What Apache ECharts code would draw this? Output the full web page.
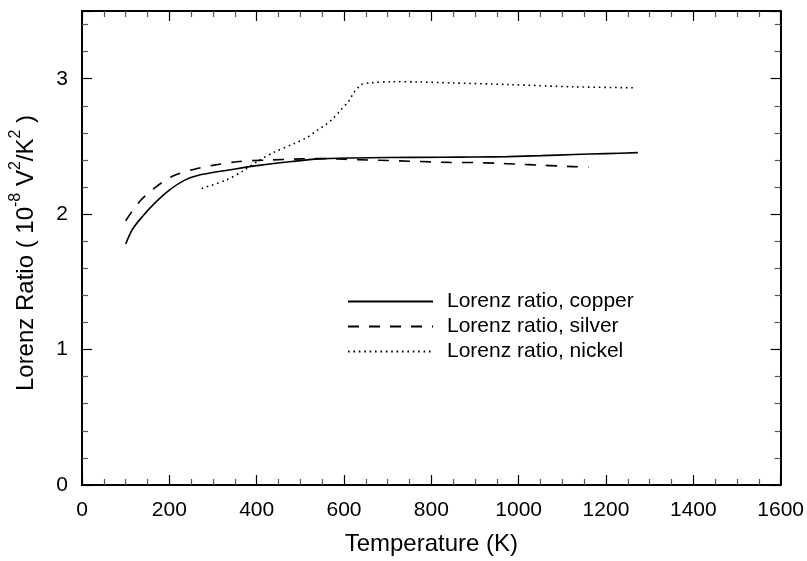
<!DOCTYPE html>
<html>
<head>
<meta charset="utf-8">
<script src="https://cdn.jsdelivr.net/npm/echarts@6/dist/echarts.min.js"></script>
<style>
  html, body { margin: 0; padding: 0; background: #fff; }
  #chart { width: 807px; height: 561px; }
</style>
</head>
<body>
<div id="chart"></div>
<script>
// Lorenz ratio L = k / (sigma T) versus temperature for three metals
const copperT = [100, 116, 139, 166, 200, 238, 276, 344, 405, 481, 542, 618, 700, 823, 900, 975, 1051, 1127, 1200, 1273];
const copperL = [1.78, 1.89, 1.985, 2.08, 2.178, 2.255, 2.294, 2.33, 2.36, 2.389, 2.408, 2.415, 2.418, 2.42, 2.422, 2.425, 2.432, 2.44, 2.447, 2.454];

const silverT = [100, 132, 169, 207, 253, 299, 359, 419, 504, 553, 602, 656, 701, 750, 800, 842, 899, 948, 998, 1047, 1096, 1160];
const silverL = [1.95, 2.094, 2.20, 2.28, 2.328, 2.36, 2.389, 2.398, 2.408, 2.41, 2.405, 2.40, 2.396, 2.391, 2.386, 2.382, 2.381, 2.376, 2.369, 2.362, 2.355, 2.346];

const nickelT = [274, 329, 367, 405, 439, 485, 515, 538, 558, 576, 593, 610, 622, 631, 639, 663, 709, 770, 846, 975, 1127, 1270];
const nickelL = [2.19, 2.25, 2.316, 2.396, 2.456, 2.52, 2.565, 2.618, 2.66, 2.71, 2.77, 2.83, 2.896, 2.93, 2.957, 2.97, 2.978, 2.976, 2.969, 2.957, 2.94, 2.933];

const seriesNames = ['Lorenz ratio, copper', 'Lorenz ratio, silver', 'Lorenz ratio, nickel'];

const FONT = "'Liberation Sans', Arial, sans-serif";
const pairs = (xs, ys) => xs.map((x, i) => [x, ys[i]]);

// Shared look of the four frame axes: thick line, inward major and minor ticks
const frameAxis = (splitNumber, extra) => Object.assign({
  type: 'value',
  axisLine: { show: true, onZero: false, lineStyle: { color: '#000', width: 2 } },
  axisTick: { show: true, inside: true, length: 10, lineStyle: { color: '#000', width: 1.2 } },
  minorTick: { show: true, splitNumber: splitNumber, length: 6, lineStyle: { color: '#555', width: 1.2 } },
  splitLine: { show: false },
  minorSplitLine: { show: false }
}, extra);

const chart = echarts.init(document.getElementById('chart'), null, { renderer: 'canvas' });
chart.setOption({
  animation: false,
  backgroundColor: '#fff',
  textStyle: { fontFamily: FONT, color: '#000' },
  grid: { left: 79, right: 26, top: 11, bottom: 67, containLabel: false },
  legend: {
    orient: 'vertical',
    left: 347,
    top: 291,
    padding: 0,
    data: seriesNames,
    selectedMode: false,
    itemWidth: 85,
    itemHeight: 14,
    itemGap: 4,
    itemStyle: { opacity: 0 },
    textStyle: { fontFamily: FONT, fontSize: 21, color: '#000', padding: [0, 0, 0, 9] }
  },
  xAxis: [
    frameAxis(4, {
      position: 'bottom', min: 0, max: 1600, interval: 200,
      name: 'Temperature (K)', nameLocation: 'middle', nameGap: 47,
      nameTextStyle: { fontFamily: FONT, fontSize: 24, color: '#000' },
      axisLabel: { show: true, margin: 15, fontFamily: FONT, fontSize: 21, color: '#000', formatter: v => String(v) }
    }),
    frameAxis(4, { position: 'top', min: 0, max: 1600, interval: 200, axisLabel: { show: false } })
  ],
  yAxis: [
    frameAxis(5, {
      position: 'left', min: 0, max: 3.5, interval: 1,
      name: '{a|Lorenz Ratio ( 10}{s|-8}{a| V}{s|2}{a|/K}{s|2}{a| )}',
      nameLocation: 'middle', nameGap: 44, nameRotate: 90,
      nameTextStyle: {
        fontFamily: FONT, color: '#000',
        padding: [0, 10, 0, 0],
        rich: {
          a: { fontFamily: FONT, fontSize: 24, color: '#000', lineHeight: 30, verticalAlign: 'bottom' },
          s: { fontFamily: FONT, fontSize: 16, color: '#000', lineHeight: 30, verticalAlign: 'top' }
        }
      },
      axisLabel: {
        show: true, margin: 14, fontFamily: FONT, fontSize: 21, color: '#000',
        formatter: v => (Number.isInteger(v) ? String(v) : '')
      }
    }),
    frameAxis(5, { position: 'right', min: 0, max: 3.5, interval: 1, axisLabel: { show: false } })
  ],
  series: [
    {
      name: seriesNames[0], type: 'line', data: pairs(copperT, copperL), symbol: 'none', smooth: 0.3,
      lineStyle: { color: '#000', width: 1.6, type: 'solid' }, itemStyle: { color: '#000' }
    },
    {
      name: seriesNames[1], type: 'line', data: pairs(silverT, silverL), symbol: 'none', smooth: 0.3,
      lineStyle: { color: '#000', width: 1.6, type: [11, 10] }, itemStyle: { color: '#000' }
    },
    {
      name: seriesNames[2], type: 'line', data: pairs(nickelT, nickelL), symbol: 'none', smooth: 0.3,
      lineStyle: { color: '#000', width: 1.6, type: [1.6, 3.8] }, itemStyle: { color: '#000' }
    }
  ]
});
</script>
</body>
</html>
